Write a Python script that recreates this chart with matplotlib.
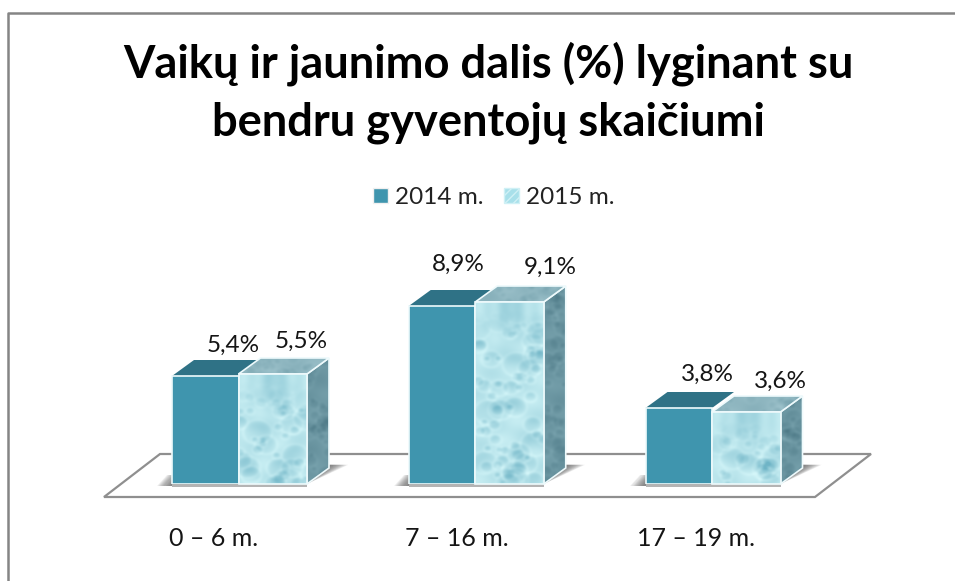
import numpy as np
import matplotlib
matplotlib.use("Agg")
import matplotlib.pyplot as plt
from matplotlib.patches import Polygon, Patch
from matplotlib.transforms import ScaledTranslation
from matplotlib.lines import Line2D

categories = ["0 – 6 m.", "7 – 16 m.", "17 – 19 m."]
series_names = ["2014 m.", "2015 m."]
values_2014 = [5.4, 8.9, 3.8]
values_2015 = [5.5, 9.1, 3.6]
labels_2014 = ["5,4%", "8,9%", "3,8%"]
labels_2015 = ["5,5%", "9,1%", "3,6%"]
title = "Vaikų ir jaunimo dalis (%) lyginant su\nbendru gyventojų skaičiumi"

W, H = 955, 581
plt.rcParams["font.family"] = ["Lato", "DejaVu Sans"]

BASE_PX = 484          # baseline, pixels from the top
PX_PER_UNIT = 20.0
STEP_PX = 236.75
FIRST_PX = 238.5
BAR_A_PX = 66.5
BAR_B_PX = 68.5
DEPTH_X_PX, DEPTH_Y_PX = 22, 16

fig = plt.figure(figsize=(W / 100, H / 100), dpi=100, facecolor="white")
ax = fig.add_axes([0, 1 - BASE_PX / H, 1, BASE_PX / H])
ax.set_xlim(-FIRST_PX / STEP_PX, (W - FIRST_PX) / STEP_PX)
ax.set_ylim(0, BASE_PX / PX_PER_UNIT)
for s in ax.spines.values():
    s.set_visible(False)
ax.set_yticks([])

ux = 1 / STEP_PX            # data units per pixel, x
uy = 1 / PX_PER_UNIT        # data units per pixel, y
bwa, bwb = BAR_A_PX * ux, BAR_B_PX * ux
dx, dy = DEPTH_X_PX * ux, DEPTH_Y_PX * uy
EDGE = "#eefafc"


def rgb(h):
    return np.array(matplotlib.colors.to_rgb(h))


def blur(a, n=2):
    for _ in range(n):
        a = (a + np.roll(a, 1, 0) + np.roll(a, -1, 0) + np.roll(a, 1, 1) + np.roll(a, -1, 1)) / 5
    return a


def scatter_hash(k, seed):
    """Deterministic pseudo-position in [0, 1) for the k-th drop of the picture texture."""
    return (np.sin(k * 12.9898 + seed * 78.233) * 43758.5453) % 1


def texture(nx, ny, light, dark, phase=0.0, density=1.0, amp=1.0, top_fade=0.0, rmax=9.0):
    """Water-drop look: soft waves plus shaded drops."""
    yy, xx = np.mgrid[0:ny, 0:nx].astype(float)
    v = 0.76 + 0.05 * np.sin(xx / 6.0 + yy / 9.0 + phase) + 0.05 * np.sin(yy / 4.0 - xx / 11.0 + 2 * phase)
    count = int(nx * ny / 170 * density) + 3
    for k in range(1, count + 1):
        cx = scatter_hash(k, phase) * nx
        cy = scatter_hash(k, phase + 1.7) * ny
        r = 2.5 + scatter_hash(k, phase + 3.1) ** 1.5 * rmax
        d = np.hypot((xx - cx) / 1.15, yy - cy)
        inside = np.exp(-(d / r) ** 4)
        shade = (yy - cy + r) / (2 * r)          # dark cap above, bright rim below
        v += amp * inside * (0.42 * np.clip(shade, 0, 1) - 0.42)
        v += amp * 0.14 * np.exp(-((d - r * 1.1) / 1.2) ** 2)
    if top_fade:
        fade = np.exp(-(yy / 30.0) ** 2)
        wob = np.exp(-((xx - nx * 0.5) / (nx * 0.22)) ** 2)
        v = v * (1 - fade) + (0.78 - 0.32 * wob + 0.06 * np.sin(xx / 2.5)) * fade
    v = np.clip(blur(v), 0, 1)[..., None]
    return dark[None, None, :] * (1 - v) + light[None, None, :] * v


def tex_poly(verts, tex, z):
    verts = np.array(verts)
    x0, x1, y0, y1 = verts[:, 0].min(), verts[:, 0].max(), verts[:, 1].min(), verts[:, 1].max()
    im = ax.imshow(tex, extent=(x0, x1, y0, y1), origin="upper", aspect="auto",
                   zorder=z, interpolation="bilinear")
    clip = Polygon(verts, closed=True, transform=ax.transData, facecolor="none", edgecolor="none")
    ax.add_patch(clip)
    im.set_clip_path(clip)
    clip.set_clip_on(False)
    ax.add_patch(Polygon(verts, closed=True, facecolor="none", edgecolor=EDGE, lw=1.2,
                         zorder=z + 0.1, clip_on=False))


xs = np.arange(len(categories), dtype=float)
xlim, ylim = ax.get_xlim(), ax.get_ylim()

# floor plate
px = lambda p: (p - FIRST_PX) * ux
floor = [(px(104), -13 * uy), (px(160), 30 * uy), (px(871), 30 * uy), (px(815), -13 * uy)]
ax.add_patch(Polygon(floor, closed=True, facecolor="white", edgecolor="#8f8f8f", lw=1.6,
                     zorder=1, clip_on=False))

# soft shadows around each pair of bars
for x in xs:
    ax.add_patch(Polygon([(x - bwa, 0), (x + bwb, 0), (x + bwb, -3 * uy), (x - bwa, -3 * uy)],
                         closed=True, facecolor="#777777", edgecolor="none", alpha=0.55,
                         zorder=1.5, clip_on=False))
    for i in range(12):
        g = (i + 1) * 1.1 * ux
        ax.add_patch(Polygon([(x - bwa - g - 2 * ux, -2 * uy), (x - bwa, -2 * uy), (x - bwa, 9 * uy),
                              (x - bwa - g + 8 * ux, 9 * uy)],
                             closed=True, facecolor="#555555", edgecolor="none", alpha=0.085,
                             zorder=1.5, clip_on=False))
        g2 = (i + 1) * 1.6 * ux
        ax.add_patch(Polygon([(x + bwb, 0), (x + bwb + dx + g2, dy * 1.2), (x + bwb + dx, dy * 1.2)],
                             closed=True, facecolor="#555555", edgecolor="none", alpha=0.10,
                             zorder=1.5, clip_on=False))

# flat 2014 bars
ax.bar(xs - bwa / 2, values_2014, width=bwa, color="#3f95ae", edgecolor=EDGE, linewidth=1.2, zorder=4)

for i, (x, a, b) in enumerate(zip(xs, values_2014, values_2015)):
    ax.add_patch(Polygon([(x - bwa, a), (x, a), (x + dx, a + dy), (x - bwa + dx, a + dy)], closed=True,
                         facecolor="#2f7286", edgecolor="none", zorder=3, clip_on=False))
    side = [(x + bwb, 0), (x + bwb + dx, dy), (x + bwb + dx, b + dy), (x + bwb, b)]
    tex_poly(side, texture(24, int(b * PX_PER_UNIT) + 18, rgb("#7ba5b0"), rgb("#3d6a78"),
                           phase=0.3 + i, density=1.6, amp=0.6, rmax=6), 3)
    top = [(x, b), (x + bwb, b), (x + bwb + dx, b + dy), (x + dx, b + dy)]
    tex_poly(top, texture(90, 16, rgb("#9dc2cb"), rgb("#5f8f9c"), phase=0.7 + i, density=2, amp=0.5, rmax=4), 3.5)
    front = [(x, 0), (x + bwb, 0), (x + bwb, b), (x, b)]
    tex_poly(front, texture(68, int(b * PX_PER_UNIT), rgb("#d4f6f9"), rgb("#6fb4c6"),
                            phase=0.15 + i * 0.37, density=1.1, amp=0.9, top_fade=1), 5)

ax.set_xlim(xlim)
ax.set_ylim(ylim)

# data labels
offs_2014 = [(28, 31), (16, 42), (29, 34)]
offs_2015 = [(28, 33), (41, 35), (34, 31)]
for vals, labs, offs, centre in ((values_2014, labels_2014, offs_2014, xs - bwa / 2),
                                 (values_2015, labels_2015, offs_2015, xs + bwb / 2)):
    for xi, v, l, o in zip(centre, vals, labs, offs):
        ax.annotate(l, (xi, v), xytext=(o[0] * 0.72, o[1] * 0.72), textcoords="offset points",
                    ha="center", va="center", fontsize=17.5, color="#151515", zorder=8)

# category axis
ax.set_xticks(xs, categories)
ax.tick_params(axis="x", length=0, pad=31, labelsize=18, labelcolor="#151515")
for lab, shift in zip(ax.get_xticklabels(), (-25, -18, -16)):
    lab.set_transform(lab.get_transform() + ScaledTranslation(shift / 100, 0, fig.dpi_scale_trans))

# title
fig.text(488 / W, 1 - 93 / H, title, ha="center", va="center", fontsize=32.6, fontweight="bold",
         color="black", linespacing=1.45)

# legend
handles = [Patch(facecolor="#3f95ae", edgecolor="#f0f0f0", label=series_names[0]),
           Patch(facecolor="#a8e0ea", edgecolor="#d0f0f5", hatch="////", label=series_names[1])]
fig.legend(handles=handles, loc="center", bbox_to_anchor=(494 / W, 1 - 197.5 / H), ncol=2, frameon=False,
           fontsize=17.5, handlelength=0.6, handleheight=0.6, handletextpad=0.3, columnspacing=0.85,
           labelcolor="#222222")

# outer border (left and top only)
fig.add_artist(Line2D([8 / W, 8 / W, 1], [0, 1 - 13 / H, 1 - 13 / H], color="#858585", lw=1.8,
                      transform=fig.transFigure))

fig.savefig("out.png", dpi=100)
